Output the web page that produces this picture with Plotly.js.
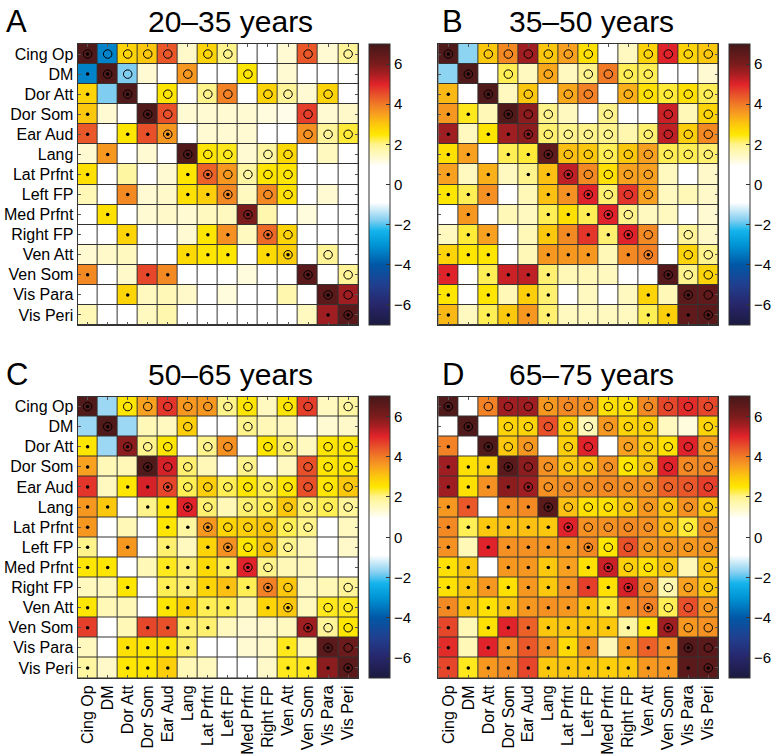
<!DOCTYPE html>
<html><head><meta charset="utf-8">
<script src="https://cdn.plot.ly/plotly-3.0.1.min.js"></script>
<style>html,body{margin:0;padding:0;background:#fff;}#chart{width:776px;height:756px;}</style>
</head><body><div id="chart"></div>
<script>
const labels = ['Cing Op','DM','Dor Att','Dor Som','Ear Aud','Lang','Lat Prfnt','Left FP','Med Prfnt','Right FP','Ven Att','Ven Som','Vis Para','Vis Peri'];
const panelTitles = ['20–35 years','35–50 years','50–65 years','65–75 years'];
const panelLetters = ['A','B','C','D'];
const cbTicks = [-6,-4,-2,0,2,4,6];

// marker codes: x = circle with dot, o = circle, . = dot, - = none
const zA = [
[6.8,-3.3,2.8,3.0,4.4,1.4,2.8,2.0,0.5,0.5,1.3,4.4,1.3,1.9],
[-3.3,6.8,-1.8,1.3,0.5,3.6,0.5,0.5,2.5,0.5,1.3,0.5,0.5,0.5],
[2.8,-1.8,6.8,0.5,2.5,0.5,2.0,3.9,0.5,2.8,1.9,1.3,2.8,0.5],
[3.0,1.3,0.5,6.8,4.5,1.3,1.3,1.3,1.3,1.2,1.1,4.7,1.3,1.4],
[4.4,0.5,2.5,4.5,3.6,0.5,1.3,1.3,1.3,0.5,0.5,3.7,1.9,2.3],
[1.3,3.6,0.5,1.3,0.5,6.8,2.5,2.4,1.3,1.8,2.7,0.5,1.5,0.5],
[2.6,0.5,1.8,0.5,1.3,2.5,4.3,3.6,1.8,2.5,2.5,0.5,0.5,0.5],
[1.6,0.5,3.8,1.3,1.4,2.6,2.9,3.8,1.5,3.8,2.6,0.5,1.3,0.5],
[0.5,2.6,0.5,1.3,1.4,1.3,1.5,1.5,6.0,1.7,0.5,1.2,0.5,0.5],
[0.5,0.5,2.8,0.5,0.5,1.3,2.5,3.7,1.5,4.2,2.8,0.5,0.5,0.5],
[1.3,1.4,1.5,0.5,0.5,2.7,2.5,2.5,0.5,2.7,2.9,0.5,1.9,0.5],
[3.8,0.5,1.4,4.6,3.8,0.5,0.5,0.5,1.2,0.5,0.5,6.6,0.5,1.9],
[0.5,0.5,2.8,1.5,1.6,1.4,0.5,1.2,0.5,0.5,1.7,0.5,6.6,5.6],
[1.6,0.5,0.5,1.5,1.7,0.5,0.5,0.5,0.5,0.5,0.5,1.5,5.6,6.6]];
const mA = ['xoooo-oo---o-o','.xo--o--o-----','.-x-o-oo-oo-o-','.--xo------o--','.-..x------ooo','-.---xoo-oo---','.----.xoooo---',
'--.--..x-oo---','-.------x-----','--.---..-xo---','-----...-.x-o-','.--..------x-o','--.---------xo','------------.x'];

const zB = [
[6.8,-1.7,3.0,3.8,5.6,3.0,3.5,2.6,0.5,1.5,2.8,5.0,2.8,3.0],
[-1.7,6.8,0.5,2.2,1.5,3.4,1.5,2.0,4.0,2.2,2.2,0.5,0.5,1.3],
[3.2,0.5,6.8,1.5,3.0,0.5,3.4,3.9,0.5,3.3,2.6,2.3,2.6,2.2],
[3.6,2.4,1.6,6.8,5.8,2.0,1.5,0.5,2.0,0.5,0.5,5.2,1.6,2.8],
[5.6,1.5,2.5,5.6,5.8,2.1,2.0,2.0,2.0,1.7,2.1,5.3,2.9,3.8],
[2.6,3.5,0.5,2.2,2.3,6.5,3.1,3.0,2.2,3.0,3.5,2.2,2.2,2.1],
[3.5,1.5,3.3,1.5,2.0,3.1,5.3,3.8,2.6,3.5,3.5,1.5,0.5,1.4],
[2.5,2.2,3.7,0.5,1.6,3.1,3.7,5.0,2.1,4.8,3.5,1.5,1.6,1.4],
[0.5,3.6,0.5,1.6,1.5,2.2,2.6,2.2,5.0,2.0,1.5,1.5,0.5,1.3],
[1.5,2.3,3.5,0.5,1.6,3.0,3.8,4.8,2.1,5.0,3.8,0.5,1.9,1.4],
[2.8,2.5,2.5,0.5,1.6,3.6,3.6,3.6,1.6,3.8,3.9,0.5,2.8,2.0],
[5.0,0.5,2.2,5.2,5.3,2.1,1.6,1.6,1.5,0.5,0.5,6.7,2.0,2.8],
[2.5,0.5,2.5,1.6,2.9,2.1,0.5,1.5,0.5,1.5,2.8,1.6,6.6,6.5],
[3.2,1.5,2.2,3.0,3.6,2.1,1.5,1.5,1.5,1.5,2.2,2.9,6.5,6.6]];
const mB = ['x-oooooo--oooo','-x-o-o-oooo---','.-x-o-oo-ooooo','..-xoo--o--o-o','.-..xoooo-oooo','..-..xoooooooo','.-.-..xoooo---',
'...--..xooo---','-.---...xo----','-..--....xo-o-','...--...-.x-oo','.-....-----xoo','.-.-..----.-xo','.-....----...x'];

const zC = [
[6.8,-1.6,2.5,3.5,4.8,3.6,3.6,2.0,2.5,1.5,2.5,4.7,1.5,1.8],
[-1.6,6.8,-1.6,1.6,1.5,2.9,0.5,0.5,2.0,1.6,1.5,0.5,1.3,1.4],
[2.5,-1.6,5.8,2.0,2.5,0.5,2.0,3.7,0.5,2.5,2.1,1.5,2.5,2.5],
[3.5,1.6,1.6,6.8,5.1,2.1,1.6,0.5,2.0,0.5,1.5,4.5,2.5,2.5],
[4.8,1.5,2.5,5.1,4.6,2.2,2.9,2.2,2.5,2.2,2.5,4.5,2.5,3.0],
[3.6,3.0,0.5,2.0,2.5,5.0,2.1,1.6,2.1,2.2,3.0,2.1,2.2,1.9],
[3.6,0.5,1.6,0.5,2.5,1.8,3.6,2.8,2.9,3.0,2.2,2.0,0.5,1.5],
[2.0,0.5,3.6,0.5,2.1,1.5,2.8,3.7,2.5,3.0,2.0,1.5,0.5,1.4],
[2.5,2.5,0.5,1.6,2.4,2.1,2.7,2.2,5.0,2.0,1.6,1.5,0.5,0.5],
[1.5,1.5,2.5,0.5,2.2,2.1,2.8,3.1,2.2,3.9,3.0,1.5,1.6,1.9],
[2.5,1.6,1.6,0.8,2.5,2.8,2.2,2.2,1.6,2.8,3.0,1.5,2.4,2.4],
[4.7,0.5,1.6,4.6,4.5,2.1,2.1,1.5,1.3,1.4,1.5,5.6,1.9,2.5],
[1.5,0.5,2.6,2.5,2.5,2.1,0.5,0.5,1.3,1.4,2.4,1.5,6.6,6.3],
[1.8,1.4,2.5,2.5,2.9,1.6,1.5,0.5,0.5,1.4,2.4,2.4,5.8,6.6]];
const mC = ['x-ooooooo-oo-o','-x---o--o-----','.-xoo-oo-oo-oo','.--xoo--o--ooo','.-..xooooooooo','..-..xo-oooooo','.---..xooooo--',
'.-.-.-.xooo---','..--....xo----','--.-.....xo--o','.---....-.x-oo','.--....----xoo','--....----.-xo','.-...-----...x'];

const zD = [
[6.8,0.8,3.9,5.6,5.6,3.6,3.8,3.7,2.6,2.6,3.8,4.6,4.9,4.6],
[0.8,6.8,0.8,2.8,2.8,4.5,2.8,1.6,3.6,2.8,2.8,1.5,1.2,2.8],
[3.9,0.8,6.8,3.0,3.6,0.8,2.9,5.0,0.8,3.5,2.9,2.6,5.0,3.6],
[5.6,2.6,2.8,6.6,5.8,3.7,3.0,3.0,3.7,2.5,3.0,5.0,3.8,3.8],
[5.6,2.6,3.7,5.8,5.6,3.7,3.7,3.7,3.8,3.7,3.7,4.3,4.4,4.7],
[3.6,4.4,0.8,3.7,3.8,6.6,3.1,2.6,2.6,3.0,3.6,3.0,3.7,3.0],
[3.8,2.2,3.0,3.1,3.1,3.0,5.0,3.7,3.7,3.8,3.7,3.1,2.3,3.7],
[3.7,1.6,5.0,3.7,3.7,3.6,3.6,3.8,2.5,4.5,3.6,3.6,3.6,3.6],
[2.6,3.0,0.8,3.6,3.6,3.0,3.5,2.6,5.2,2.9,2.6,3.0,1.6,3.0],
[2.6,3.0,3.6,2.6,3.6,3.0,3.7,4.7,2.6,5.1,3.7,1.7,3.5,3.0],
[3.8,3.0,2.6,3.0,3.6,3.7,3.6,3.0,2.3,3.7,3.9,2.2,4.5,3.6],
[4.6,1.6,2.6,5.0,4.3,3.0,3.0,3.0,3.0,1.8,2.5,5.6,3.6,3.7],
[4.9,1.6,5.0,3.7,4.4,3.7,2.7,3.7,1.6,3.6,4.3,3.7,6.7,6.6],
[4.6,2.4,3.6,3.8,4.6,3.0,3.0,3.0,2.9,3.0,3.6,3.6,6.6,6.6]];
const mD = ['x-oooooooooooo','-x-oooooooo--o','.-xoo-oo-ooooo','...xoooooooooo','....xooooooooo','..-..xoooooooo','......xooooooo',
'.-.....xoooooo','..-.....xooo-o','.........xoooo','..........xooo','.-.........xoo','.-......-...xo','.............x'];

// colour map (value -> colour)
const cmapVals = [-7,-6,-5,-4,-3,-2.3,-1.8,-1.2,-0.9,0.9,1.3,1.7,2.0,2.5,3.0,3.5,4.0,4.5,5.0,5.5,6.0,7.0];
const cmapCols = ['#1b1a3f','#27266a','#213f8f','#0058a6','#0095d6','#14b4ec','#7fcdf0','#d5eef9','#ffffff','#ffffff','#fffad2','#fff7ad','#fff38c','#ffe600','#fcc80d','#f8a01f','#f07a26','#e8502a','#e0232a','#a81e22','#7a1c1c','#45181a'];
const colorscale = cmapVals.map((v,i)=>[(v+7)/14, cmapCols[i]]);

const W=776, H=756;
const FONT='Liberation Sans, Arial, Helvetica, sans-serif';
const panels = [
 {z:zA, m:mA, x0:78, x1:360, y0:44, y1:325, ylab:true, xlab:false, lx:4},
 {z:zB, m:mB, x0:440.6, x1:722, y0:44, y1:325, ylab:false, xlab:false, lx:442},
 {z:zC, m:mC, x0:78, x1:360, y0:396.5, y1:678, ylab:true, xlab:true, lx:4},
 {z:zD, m:mD, x0:440.6, x1:722, y0:396.5, y1:678, ylab:false, xlab:true, lx:442}
];
const idx = labels.map((_,i)=>i);
const data=[]; const layout={
 width:W, height:H, margin:{l:0,r:0,t:0,b:0}, paper_bgcolor:'#fff', plot_bgcolor:'#333',
 showlegend:false, font:{family:FONT, color:'#000', size:16}, annotations:[]
};
panels.forEach((p,k)=>{
  const s = k===0?'':String(k+1);
  const xa='x'+s, ya='y'+s;
  data.push({type:'heatmap', z:p.z, x:idx, y:idx, xaxis:xa, yaxis:ya, zmin:-7, zmax:7,
    colorscale:colorscale, xgap:1, ygap:1, hoverinfo:'skip',
    colorbar:{x:(p.x1+11)/W, xanchor:'left', y:1-((p.y0+p.y1)/2)/H, yanchor:'middle',
      lenmode:'pixels', len:p.y1-p.y0, thickness:21, xpad:0, ypad:0,
      outlinecolor:'#333', outlinewidth:1, tickvals:cbTicks, ticks:'inside', ticklen:4,
      tickcolor:'#333', tickfont:{size:15, family:FONT}}});
  const cx=[],cy=[],dx=[],dy=[];
  p.m.forEach((row,r)=>{ for(let c=0;c<row.length;c++){ const ch=row[c];
    if(ch==='x'||ch==='o'){cx.push(c);cy.push(r);} if(ch==='x'||ch==='.'){dx.push(c);dy.push(r);} }});
  data.push({type:'scatter', mode:'markers', x:cx, y:cy, xaxis:xa, yaxis:ya, hoverinfo:'skip',
    marker:{symbol:'circle-open', size:8.5, color:'#000', line:{width:1, color:'#000'}}});
  data.push({type:'scatter', mode:'markers', x:dx, y:dy, xaxis:xa, yaxis:ya, hoverinfo:'skip',
    marker:{symbol:'circle', size:3.5, color:'#000'}});
  const axCommon = {showgrid:false, zeroline:false, showline:true, linecolor:'#333', linewidth:1,
    mirror:'ticks', ticks:'inside', ticklen:3, tickcolor:'#555', tickvals:idx, ticktext:labels,
    tickfont:{size:16, family:FONT, color:'#000'}, fixedrange:true};
  layout['xaxis'+s] = Object.assign({}, axCommon, {domain:[p.x0/W, p.x1/W], range:[-0.5,13.5],
    anchor:ya, showticklabels:p.xlab, tickangle:-90});
  layout['yaxis'+s] = Object.assign({}, axCommon, {domain:[1-p.y1/H, 1-p.y0/H], range:[13.5,-0.5],
    anchor:xa, showticklabels:p.ylab});
  const ty = p.y0-22;
  layout.annotations.push({text:panelLetters[k], xref:'paper', yref:'paper', x:p.lx/W, y:1-ty/H,
    xanchor:'left', yanchor:'middle', showarrow:false, font:{size:31, family:FONT, color:'#000'}});
  layout.annotations.push({text:panelTitles[k], xref:'paper', yref:'paper', x:((p.x0+p.x1)/2+13)/W, y:1-ty/H,
    xanchor:'center', yanchor:'middle', showarrow:false, font:{size:30, family:FONT, color:'#000'}});
});
Plotly.newPlot('chart', data, layout, {staticPlot:true});
</script></body></html>
